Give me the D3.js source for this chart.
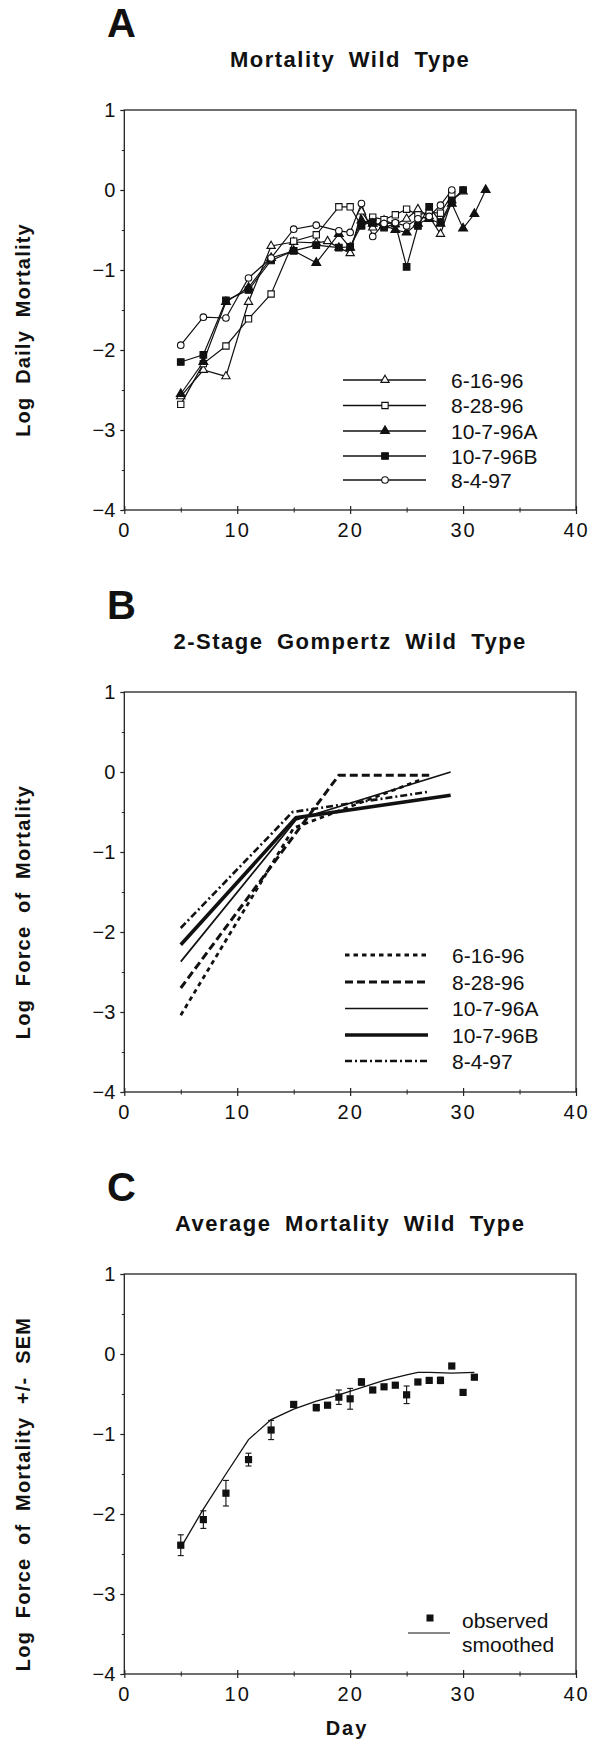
<!DOCTYPE html>
<html><head><meta charset="utf-8">
<script src="https://cdn.jsdelivr.net/npm/d3@7/dist/d3.min.js"></script>
<style>
html,body{margin:0;padding:0;background:#fff;}
svg{display:block;font-family:"Liberation Sans",Arial,Helvetica,sans-serif;}
</style></head>
<body>
<svg id="chart" width="590" height="1757"></svg>
<script>
// ---------- DATA ----------
const xTicks = [0, 10, 20, 30, 40];
const yTicks = [1, 0, -1, -2, -3, -4];

// Panel A: observed log daily mortality, [day, value]
const a_61696 = [[5,-2.58],[7,-2.25],[9,-2.33],[11,-1.40],[13,-0.70],[15,-0.65],[17,-0.66],[18,-0.64],[19,-0.72],[20,-0.79],[21,-0.27],[22,-0.47],[23,-0.38],[24,-0.43],[25,-0.36],[26,-0.24],[27,-0.33],[28,-0.55],[29,-0.13],[30,-0.02]];
const a_82896 = [[5,-2.68],[7,-2.17],[9,-1.95],[11,-1.61],[13,-1.30],[15,-0.64],[17,-0.56],[19,-0.21],[20,-0.21],[21,-0.45],[22,-0.34],[23,-0.37],[24,-0.31],[25,-0.24],[26,-0.31],[27,-0.28],[28,-0.29],[29,-0.06]];
const a_10796A = [[5,-2.55],[7,-2.15],[9,-1.40],[11,-1.22],[13,-0.85],[15,-0.76],[17,-0.91],[19,-0.55],[20,-0.72],[21,-0.38],[22,-0.42],[23,-0.44],[24,-0.50],[25,-0.53],[26,-0.42],[27,-0.36],[28,-0.42],[29,-0.17],[30,-0.48],[31,-0.30],[32,0.0]];
const a_10796B = [[5,-2.15],[7,-2.06],[9,-1.38],[11,-1.25],[13,-0.88],[15,-0.76],[17,-0.69],[19,-0.72],[20,-0.71],[21,-0.44],[22,-0.40],[23,-0.47],[24,-0.42],[25,-0.96],[26,-0.45],[27,-0.21],[28,-0.40],[29,-0.13],[30,0.0]];
const a_8497 = [[5,-1.94],[7,-1.59],[9,-1.60],[11,-1.10],[13,-0.85],[15,-0.49],[17,-0.44],[19,-0.51],[20,-0.53],[21,-0.17],[22,-0.58],[23,-0.42],[24,-0.41],[25,-0.45],[26,-0.36],[27,-0.33],[28,-0.19],[29,0.0]];
const seriesNames = ["6-16-96", "8-28-96", "10-7-96A", "10-7-96B", "8-4-97"];

// Panel B: two-stage Gompertz fits, [day, value]
const b_61696 = [[5,-3.04],[15,-0.70],[26.2,-0.10]];
const b_82896 = [[5,-2.70],[19,-0.04],[27,-0.04]];
const b_10796A = [[5,-2.37],[15.2,-0.60],[28.9,0.0]];
const b_10796B = [[5,-2.16],[15.2,-0.57],[28.9,-0.29]];
const b_8497 = [[5,-1.95],[14.9,-0.50],[26.8,-0.25]];

// Panel C: average force of mortality +/- SEM
const c_days = [5,7,9,11,13,15,17,18,19,20,21,22,23,24,25,26,27,28,29,30,31];
const c_mean = [-2.39,-2.07,-1.74,-1.32,-0.95,-0.63,-0.67,-0.64,-0.54,-0.56,-0.35,-0.45,-0.41,-0.39,-0.51,-0.35,-0.33,-0.33,-0.15,-0.48,-0.29];
const c_sem  = [0.13,0.11,0.16,0.08,0.12,0.03,0.04,0.02,0.09,0.13,0.04,0.03,0.02,0.02,0.11,0.02,0.02,0.04,0.02,0.02,0.02];
const c_smoothDays = [5,7,9,11,13,15,17,19,21,23,25,26,27,29,31];
const c_smooth = [-2.42,-1.94,-1.50,-1.07,-0.82,-0.69,-0.59,-0.51,-0.42,-0.33,-0.26,-0.23,-0.23,-0.24,-0.23];

// ---------- LAYOUT ----------
const svg = d3.select("#chart");
const L = 124.3, R = 576, PH = 400;
const tops = [110, 692, 1274];
const x = d3.scaleLinear().domain([0, 40]).range([L, R]);
const ink = "#111";

function panel(top, letter, title, ylabel) {
  const y = d3.scaleLinear().domain([-4, 1]).range([top + PH, top]);
  const g = svg.append("g");
  // letter
  g.append("text").attr("x", 107).attr("y", top - 73).attr("font-size", 40)
    .attr("font-weight", "bold").attr("fill", ink).text(letter);
  // title
  g.append("text").attr("x", (L + R) / 2).attr("y", top - 43).attr("text-anchor", "middle")
    .attr("font-size", 22).attr("font-weight", "bold").attr("fill", ink)
    .style("letter-spacing", "1.5px").style("word-spacing", "6px").text(title);
  // y label
  g.append("text").attr("transform", `translate(30,${top + PH / 2 + 20}) rotate(-90)`)
    .attr("text-anchor", "middle").attr("font-size", 20).attr("font-weight", "bold").attr("fill", ink)
    .style("letter-spacing", "1.2px").style("word-spacing", "6px").text(ylabel);
  // box
  g.append("rect").attr("x", L).attr("y", top).attr("width", R - L).attr("height", PH)
    .attr("fill", "none").attr("stroke", "#222").attr("stroke-width", 1.3);
  // x axis
  const xa = g.append("g").attr("transform", `translate(0,${top + PH})`)
    .call(d3.axisBottom(x).tickValues(xTicks).tickSize(4).tickPadding(9));
  xa.select(".domain").remove();
  xa.selectAll("line").attr("stroke", "#222").attr("y1", -4).attr("stroke-width", 1.2);
  xa.selectAll("text").attr("font-size", 20).attr("fill", ink).style("letter-spacing", "2px")
    .attr("font-family", "Liberation Sans, Arial, sans-serif");
  g.append("g").attr("transform", `translate(0,${top + PH})`)
    .call(d3.axisBottom(x).tickValues([5, 15, 25, 35]).tickSize(2.5).tickFormat(""))
    .call(s => { s.select(".domain").remove(); s.selectAll("line").attr("stroke", "#222").attr("y1", -2.5); });
  // y axis
  const ya = g.append("g").attr("transform", `translate(${L},0)`)
    .call(d3.axisLeft(y).tickValues(yTicks).tickSize(4).tickPadding(5).tickFormat(d3.format("d")));
  ya.select(".domain").remove();
  ya.selectAll("line").attr("stroke", "#222").attr("stroke-width", 1.2);
  ya.selectAll("text").attr("font-size", 20).attr("fill", ink)
    .attr("font-family", "Liberation Sans, Arial, sans-serif");
  g.append("g").attr("transform", `translate(${L},0)`)
    .call(d3.axisLeft(y).tickValues([0.5, -0.5, -1.5, -2.5, -3.5]).tickSize(2.5).tickFormat(""))
    .call(s => { s.select(".domain").remove(); s.selectAll("line").attr("stroke", "#222"); });
  return { g, y };
}

// ---------- PANEL A ----------
{
  const { g, y } = panel(tops[0], "A", "Mortality Wild Type", "Log Daily Mortality");
  const line = d3.line().x(d => x(d[0])).y(d => y(d[1]));
  const sets = [a_61696, a_82896, a_10796A, a_10796B, a_8497];
  const syms = [
    { t: d3.symbolTriangle, s: 30, fill: "#fff" },
    { t: d3.symbolSquare, s: 40, fill: "#fff" },
    { t: d3.symbolTriangle, s: 34, fill: ink },
    { t: d3.symbolSquare, s: 44, fill: ink },
    { t: d3.symbolCircle, s: 34, fill: "#fff" }
  ];
  sets.forEach(s => g.append("path").datum(s).attr("d", line).attr("fill", "none")
    .attr("stroke", ink).attr("stroke-width", 1.2));
  sets.forEach((s, i) => {
    g.selectAll(null).data(s).enter().append("path")
      .attr("transform", d => `translate(${x(d[0])},${y(d[1])})`)
      .attr("d", d3.symbol().type(syms[i].t).size(syms[i].s)())
      .attr("fill", syms[i].fill).attr("stroke", ink).attr("stroke-width", 1.1);
  });
  // legend
  const ly = [380, 405.5, 431, 456, 480];
  seriesNames.forEach((n, i) => {
    g.append("line").attr("x1", 343).attr("x2", 426).attr("y1", ly[i]).attr("y2", ly[i])
      .attr("stroke", ink).attr("stroke-width", 1.3);
    g.append("path").attr("transform", `translate(385,${ly[i]})`)
      .attr("d", d3.symbol().type(syms[i].t).size(syms[i].s)())
      .attr("fill", syms[i].fill).attr("stroke", ink).attr("stroke-width", 1.1);
    g.append("text").attr("x", 451).attr("y", ly[i] + 7.5).attr("font-size", 21).attr("fill", ink).text(n);
  });
}

// ---------- PANEL B ----------
{
  const { g, y } = panel(tops[1], "B", "2-Stage Gompertz Wild Type", "Log Force of Mortality");
  const line = d3.line().x(d => x(d[0])).y(d => y(d[1]));
  const sets = [b_61696, b_82896, b_10796A, b_10796B, b_8497];
  const styles = [
    { w: 2.8, dash: "4.5,4" },
    { w: 3, dash: "8,4" },
    { w: 1.7, dash: null },
    { w: 3.6, dash: null },
    { w: 2.6, dash: "7,3,2,3" }
  ];
  sets.forEach((s, i) => g.append("path").datum(s).attr("d", line).attr("fill", "none")
    .attr("stroke", ink).attr("stroke-width", styles[i].w)
    .attr("stroke-dasharray", styles[i].dash));
  const ly = [955, 982, 1008.5, 1035, 1061];
  seriesNames.forEach((n, i) => {
    g.append("line").attr("x1", 345).attr("x2", 428).attr("y1", ly[i]).attr("y2", ly[i])
      .attr("stroke", ink).attr("stroke-width", styles[i].w).attr("stroke-dasharray", styles[i].dash);
    g.append("text").attr("x", 452).attr("y", ly[i] + 7.5).attr("font-size", 21).attr("fill", ink).text(n);
  });
}

// ---------- PANEL C ----------
{
  const { g, y } = panel(tops[2], "C", "Average Mortality Wild Type", "Log Force of Mortality +/- SEM");
  const obs = c_days.map((d, i) => ({ d, m: c_mean[i], s: c_sem[i] }));
  const eb = g.selectAll(null).data(obs).enter().append("g").attr("stroke", ink).attr("stroke-width", 1.1);
  eb.append("line").attr("x1", o => x(o.d)).attr("x2", o => x(o.d))
    .attr("y1", o => y(o.m - o.s)).attr("y2", o => y(o.m + o.s));
  eb.append("line").attr("x1", o => x(o.d) - 3).attr("x2", o => x(o.d) + 3)
    .attr("y1", o => y(o.m - o.s)).attr("y2", o => y(o.m - o.s));
  eb.append("line").attr("x1", o => x(o.d) - 3).attr("x2", o => x(o.d) + 3)
    .attr("y1", o => y(o.m + o.s)).attr("y2", o => y(o.m + o.s));
  const line = d3.line().x((d, i) => x(c_smoothDays[i])).y(d => y(d));
  g.append("path").datum(c_smooth).attr("d", line).attr("fill", "none")
    .attr("stroke", ink).attr("stroke-width", 1.3);
  g.selectAll(null).data(obs).enter().append("rect")
    .attr("x", o => x(o.d) - 3.6).attr("y", o => y(o.m) - 3.6)
    .attr("width", 7.2).attr("height", 7.2).attr("fill", ink);
  // legend
  g.append("rect").attr("x", 426.5).attr("y", 1614.5).attr("width", 7).attr("height", 7).attr("fill", ink);
  g.append("text").attr("x", 462).attr("y", 1628).attr("font-size", 21).attr("fill", ink).text("observed");
  g.append("line").attr("x1", 408).attr("x2", 450).attr("y1", 1633).attr("y2", 1633)
    .attr("stroke", ink).attr("stroke-width", 1.2);
  g.append("text").attr("x", 462).attr("y", 1652).attr("font-size", 21).attr("fill", ink).text("smoothed");
}

// x-axis title
svg.append("text").attr("x", 347).attr("y", 1735).attr("text-anchor", "middle")
  .attr("font-size", 20).attr("font-weight", "bold").attr("fill", ink)
  .style("letter-spacing", "2px").text("Day");
</script>
</body></html>
